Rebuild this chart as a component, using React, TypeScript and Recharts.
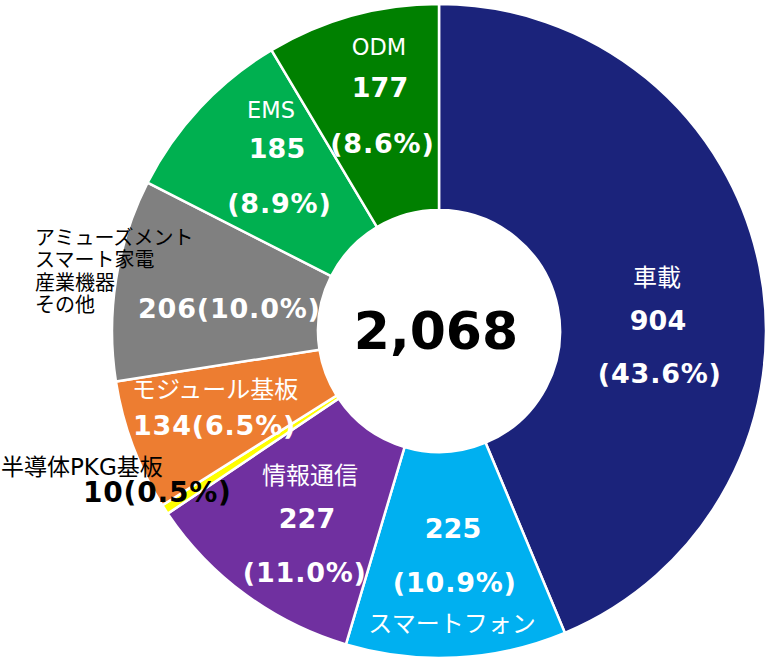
import { PieChart, Pie, Cell } from "recharts"

const categories = [
  "車載",
  "スマートフォン",
  "情報通信",
  "半導体PKG基板",
  "モジュール基板",
  "アミューズメント\nスマート家電\n産業機器\nその他",
  "EMS",
  "ODM",
]
const values = [904, 225, 227, 10, 134, 206, 185, 177]
const percentLabels = ["43.6%", "10.9%", "11.0%", "0.5%", "6.5%", "10.0%", "8.9%", "8.6%"]
const colors = ["#1B237B", "#00B0F0", "#7030A0", "#FFFF00", "#ED7D31", "#808080", "#00B050", "#008000"]
const totalLabel = "2,068"

const data = categories.map((name, i) => ({ name, value: values[i] }))

const FONT = "'DejaVu Sans', 'Noto Sans CJK JP', sans-serif"
const WHITE = "#FFFFFF"
const BLACK = "#000000"

type Kind = "name" | "value" | "pct" | "valuePct"
type Line = { kind: Kind; dx: number; dy: number; anchor: "start" | "middle"; color: string; bold: boolean; size: number }

// label placement, offsets from the pie centre
const layout: Line[][] = [
  [
    { kind: "name", dx: 218, dy: -53, anchor: "middle", color: WHITE, bold: false, size: 24 },
    { kind: "value", dx: 219, dy: -11, anchor: "middle", color: WHITE, bold: true, size: 27 },
    { kind: "pct", dx: 218, dy: 42, anchor: "middle", color: WHITE, bold: true, size: 27 },
  ],
  [
    { kind: "value", dx: 14, dy: 197, anchor: "middle", color: WHITE, bold: true, size: 27 },
    { kind: "pct", dx: 13, dy: 251, anchor: "middle", color: WHITE, bold: true, size: 27 },
    { kind: "name", dx: 13, dy: 293, anchor: "middle", color: WHITE, bold: false, size: 24 },
  ],
  [
    { kind: "name", dx: -129, dy: 145, anchor: "middle", color: WHITE, bold: false, size: 24 },
    { kind: "value", dx: -132, dy: 187, anchor: "middle", color: WHITE, bold: true, size: 27 },
    { kind: "pct", dx: -137, dy: 241, anchor: "middle", color: WHITE, bold: true, size: 27 },
  ],
  [
    { kind: "name", dx: -438, dy: 136, anchor: "start", color: BLACK, bold: false, size: 23 },
    { kind: "valuePct", dx: -356, dy: 161, anchor: "start", color: BLACK, bold: true, size: 28 },
  ],
  [
    { kind: "name", dx: -307, dy: 59, anchor: "start", color: WHITE, bold: false, size: 24 },
    { kind: "valuePct", dx: -306, dy: 94, anchor: "start", color: WHITE, bold: true, size: 27 },
  ],
  [
    { kind: "name", dx: -404, dy: -93, anchor: "start", color: BLACK, bold: false, size: 20 },
    { kind: "valuePct", dx: -301, dy: -23, anchor: "start", color: WHITE, bold: true, size: 27 },
  ],
  [
    { kind: "name", dx: -168, dy: -221, anchor: "middle", color: WHITE, bold: false, size: 22.5 },
    { kind: "value", dx: -162, dy: -183, anchor: "middle", color: WHITE, bold: true, size: 27 },
    { kind: "pct", dx: -162, dy: -128, anchor: "middle", color: WHITE, bold: true, size: 27 },
  ],
  [
    { kind: "name", dx: -60, dy: -284, anchor: "middle", color: WHITE, bold: false, size: 22.5 },
    { kind: "value", dx: -59, dy: -244, anchor: "middle", color: WHITE, bold: true, size: 27 },
    { kind: "pct", dx: -59, dy: -188, anchor: "middle", color: WHITE, bold: true, size: 27 },
  ],
]

const renderLabel = (props: any) => {
  const { cx, cy, index } = props
  const lines = layout[index] || []
  return (
    <g key={`lbl-${index}`}>
      {lines.map((l, j) => {
        if (l.kind === "name") {
          const parts = categories[index].split("\n")
          return (
            <text
              key={j}
              x={cx + l.dx}
              y={cy + l.dy}
              textAnchor={l.anchor}
              dominantBaseline="central"
              fill={l.color}
              fontFamily={FONT}
              fontSize={l.size}
            >
              {parts.map((p, k) => (
                <tspan key={k} x={cx + l.dx} dy={k === 0 ? 0 : 22.3}>
                  {p}
                </tspan>
              ))}
            </text>
          )
        }
        let txt = ""
        if (l.kind === "value") txt = String(values[index])
        if (l.kind === "pct") txt = `(${percentLabels[index]})`
        if (l.kind === "valuePct") txt = `${values[index]}(${percentLabels[index]})`
        const spacing = l.kind === "value" ? 0 : 0.8
        return (
          <text
            key={j}
            x={cx + l.dx + (l.anchor === "middle" ? (spacing * txt.length) / 2 : 0)}
            y={cy + l.dy}
            textAnchor={l.anchor}
            dominantBaseline="central"
            fill={l.color}
            fontFamily={FONT}
            fontWeight="bold"
            fontSize={l.size}
            letterSpacing={spacing}
          >
            {txt}
          </text>
        )
      })}
    </g>
  )
}

export default function App() {
  return (
    <div style={{ position: "absolute", left: 0, top: 0, width: 769, height: 662, background: "#fff" }}>
      <PieChart width={769} height={662} margin={{ top: 0, right: 0, bottom: 0, left: 0 }}>
        <Pie
          data={data}
          dataKey="value"
          nameKey="name"
          cx={439}
          cy={331}
          innerRadius={121}
          outerRadius={327}
          startAngle={90}
          endAngle={-270}
          stroke="#FFFFFF"
          strokeWidth={2.5}
          labelLine={false}
          label={renderLabel}
          isAnimationActive={false}
        >
          {data.map((d, i) => (
            <Cell key={d.name} fill={colors[i]} />
          ))}
        </Pie>
        <text
          x={436}
          y={331}
          textAnchor="middle"
          dominantBaseline="central"
          fill="#000"
          fontFamily={FONT}
          fontWeight="bold"
          fontSize={52}
        >
          {totalLabel}
        </text>
      </PieChart>
    </div>
  )
}
